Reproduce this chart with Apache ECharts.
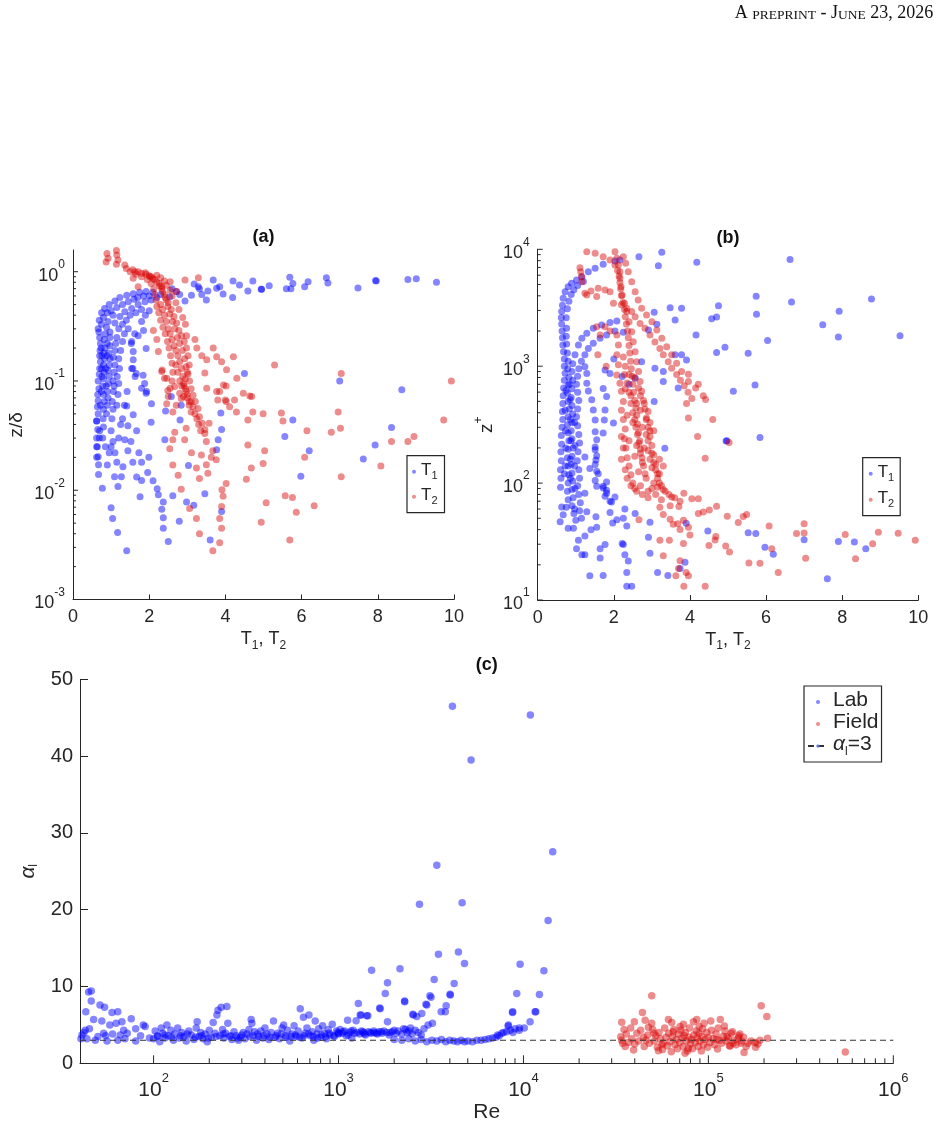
<!DOCTYPE html>
<html><head><meta charset="utf-8">
<script src="https://cdn.jsdelivr.net/npm/echarts@6/dist/echarts.min.js"></script>
<style>html,body{margin:0;padding:0;background:#fff}#c{width:939px;height:1139px}</style>
</head><body><div id="c"></div>
<script>
// ---------------- DATA ----------------
// Panel (a): [T, z/delta]
const aT1 = [
[3.18,0.77],[3.32,0.70],[3.54,0.665],[3.68,0.84],[3.85,0.73],[4.19,0.58],[4.2,0.82],[4.37,0.755],[4.59,0.665],[4.72,0.82],[4.94,0.69],[4.95,0.69],[5.15,0.745],[5.6,0.70],[5.69,0.89],[5.77,0.78],[5.72,0.7],[6.08,0.73],[6.17,0.81],[6.65,0.88],[6.69,0.79],[7.48,0.71],[7.94,0.83],[7.96,0.82],[8.79,0.85],[9.01,0.86],[9.54,0.80],
[2.71,0.66],[2.94,0.54],[3.11,0.61],[3.5,0.55],[2.54,0.59],[3.29,0.73],[3.38,0.62],[3.77,0.705],[3.94,0.625],[2.8,0.62],[2.6,0.7],
[0.62,0.02],[0.64,0.025],[0.62,0.03],[0.65,0.036],[0.62,0.043],[0.66,0.05],[0.64,0.058],[0.66,0.066],[0.65,0.075],[0.68,0.085],[0.66,0.1],[0.69,0.115],[0.7,0.13],[0.72,0.15],[0.7,0.17],[0.71,0.19],[0.72,0.22],[0.7,0.25],[0.68,0.28],[0.66,0.3],[0.69,0.36],[0.75,0.42],[0.83,0.46],[0.95,0.5],[1.1,0.54],[1.23,0.58],[1.41,0.61],[1.58,0.63],[1.75,0.65],[1.92,0.66],[2.1,0.65],
[0.78,0.03],[0.8,0.038],[0.79,0.045],[0.8,0.055],[0.82,0.065],[0.8,0.075],[0.78,0.09],[0.8,0.105],[0.82,0.12],[0.8,0.14],[0.83,0.16],[0.81,0.18],[0.84,0.2],[0.82,0.24],[0.85,0.27],[0.88,0.31],
[0.88,0.05],[0.9,0.06],[0.92,0.07],[0.9,0.08],[0.93,0.095],[0.95,0.11],[0.92,0.125],[0.95,0.14],[0.97,0.16],[0.94,0.18],[0.97,0.21],[0.97,0.25],[0.97,0.28],[1.1,0.34],[1.23,0.39],[1.36,0.43],[1.54,0.46],[1.71,0.5],[1.89,0.53],[2.05,0.55],
[1.0,0.035],[1.02,0.045],[1.05,0.055],[1.03,0.065],[1.06,0.08],[1.08,0.09],[1.05,0.1],[1.08,0.12],[1.1,0.14],[1.06,0.165],[1.1,0.19],[1.12,0.22],[1.15,0.25],[1.2,0.3],[1.3,0.33],[1.4,0.36],[1.5,0.4],[1.65,0.42],[1.8,0.45],
[1.15,0.06],[1.18,0.075],[1.2,0.095],[1.16,0.11],[1.22,0.13],[1.2,0.16],[1.25,0.19],[1.3,0.23],[1.35,0.27],[1.45,0.3],
[1.54,0.23],[1.58,0.186],[1.58,0.156],[1.54,0.13],[1.63,0.11],[1.8,0.086],[1.93,0.08],[1.85,0.29],[1.71,0.26],[1.62,0.27],[1.53,0.22],[1.57,0.13],[1.66,0.117],[1.84,0.113],[1.88,0.095],[1.92,0.077],[2.06,0.062],[2.05,0.042],[1.92,0.198],[1.8,0.35],[1.9,0.4],[2.0,0.44],
[1.41,0.059],[1.58,0.049],[1.67,0.035],[1.52,0.028],[1.73,0.022],[1.8,0.018],[1.99,0.02],[1.96,0.0145],[1.67,0.0132],[1.8,0.0123],[2.1,0.0122],[2.21,0.0103],[2.24,0.0091],[1.76,0.0087],[1.44,0.039],[1.36,0.029],[1.44,0.023],[1.57,0.018],[1.31,0.0164],[1.09,0.0133],[1.27,0.0133],[1.18,0.0108],
[1.0,0.0069],[1.04,0.0055],[1.17,0.0041],[1.41,0.0028],[0.77,0.0104],[0.67,0.0139],[0.67,0.0171],[0.66,0.0203],[0.62,0.025],[0.69,0.03],[0.7,0.035],[0.62,0.043],
[1.0,0.025],[1.05,0.028],[0.95,0.022],[1.1,0.022],[1.2,0.03],[1.25,0.04],[0.9,0.017],[0.85,0.025],[1.15,0.018],[1.3,0.045],[1.35,0.06],[1.42,0.08],
[2.37,0.0078],[2.33,0.0067],[2.37,0.0056],[2.37,0.0045],[2.5,0.0034],[2.79,0.0052],[2.98,0.0078],[3.17,0.0073],[3.46,0.0093],[3.6,0.0035],[3.9,0.0064],[2.62,0.0089],[3.03,0.0168],[2.41,0.029],[2.43,0.053],[2.81,0.044],[2.58,0.072],[2.84,0.06],
[3.88,0.051],[3.9,0.036],[3.81,0.029],[3.77,0.0235],
[8.63,0.083],[7.0,0.1],[4.5,0.117],[5.77,0.044],[5.56,0.031],[6.2,0.023],[5.98,0.0134],[7.62,0.0193],[7.93,0.026],[8.36,0.0375],
[0.75,0.33],[0.8,0.38],[0.9,0.42],[1.0,0.44],[1.15,0.47],[1.3,0.5],[1.45,0.53],[1.6,0.56],[1.7,0.58],[1.85,0.6],[2.0,0.6],[2.2,0.58],[2.3,0.62],
[0.72,0.06],[0.74,0.08],[0.76,0.11],[0.75,0.13],[0.76,0.17],[0.74,0.2],[0.87,0.09],[0.86,0.13],[0.89,0.17],[0.9,0.22],[0.92,0.35],[1.05,0.4]
];
const aT2 = [
[0.86,1.6],[0.89,1.47],[0.92,1.33],[0.87,1.23],[1.14,1.56],[1.15,1.42],[1.18,1.28],[1.14,1.17],
[1.36,1.15],[1.4,1.07],[1.57,1.04],[1.71,1.0],[1.8,0.97],[1.92,0.95],[2.06,0.9],[2.14,0.85],[2.26,0.78],[2.33,0.70],[2.4,0.62],[2.45,0.55],[2.49,0.48],[2.54,0.41],[2.61,0.35],[2.67,0.3],[2.74,0.25],[2.8,0.22],[2.87,0.19],[2.93,0.16],[2.97,0.135],[3.02,0.116],[3.06,0.1],[3.1,0.085],[3.15,0.074],[3.21,0.065],[3.28,0.056],[3.32,0.047],[3.39,0.041],[3.46,0.036],
[1.5,1.0],[1.65,0.95],[1.8,0.9],[1.95,0.85],[2.05,0.78],[2.12,0.7],[2.15,0.62],[2.18,0.55],[2.2,0.48],[2.25,0.42],[2.3,0.36],[2.36,0.31],[2.42,0.27],[2.48,0.23],[2.52,0.2],[2.56,0.17],[2.6,0.145],[2.62,0.12],[2.6,0.1],
[1.9,0.98],[2.0,0.92],[2.1,0.86],[2.2,0.8],[2.28,0.74],[2.35,0.66],[2.42,0.58],[2.5,0.52],[2.58,0.45],[2.65,0.39],[2.72,0.34],[2.78,0.29],[2.85,0.26],[2.92,0.23],[2.98,0.2],[3.02,0.17],[3.05,0.14],[3.0,0.12],[2.95,0.105],[2.92,0.09],[2.97,0.08],[3.0,0.07],[3.05,0.06],[3.1,0.052],
[2.2,0.93],[2.3,0.88],[2.4,0.82],[2.45,0.75],[2.55,0.68],[2.6,0.6],[2.7,0.52],[2.78,0.45],[2.88,0.38],[2.95,0.33],
[2.3,0.5],[2.35,0.45],[2.4,0.4],[2.45,0.35],[2.5,0.3],[2.55,0.27],[2.6,0.24],[2.65,0.21],[2.7,0.19],[2.75,0.17],[2.8,0.15],[2.85,0.13],[2.88,0.11],[2.9,0.095],[2.95,0.085],[3.0,0.075],[3.05,0.065],[3.15,0.058],[3.2,0.05],[3.25,0.045],[2.7,0.14],[2.75,0.12],[2.8,0.1],[2.85,0.09],[2.9,0.072],[3.1,0.065],[3.3,0.04],[3.35,0.035],
[1.58,0.87],[1.63,1.0],[2.02,0.9],[2.33,0.73],[2.55,0.81],[2.72,0.66],[2.94,0.84],[3.29,0.88],[1.71,0.73],[2.11,0.29],[2.2,0.24],[2.98,0.26],[3.2,0.24],[3.25,0.2],[3.38,0.17],[3.51,0.156],[3.68,0.2],[3.77,0.167],[3.9,0.15],[4.03,0.127],[4.21,0.167],[2.33,0.122],[2.46,0.106],[2.55,0.086],[2.5,0.072],[2.46,0.062],[2.24,0.186],[3.46,0.118],[3.51,0.086],[3.77,0.08],[3.95,0.092],[4.0,0.067],[4.3,0.106],[4.47,0.077],[4.69,0.072],
[5.29,0.14],[7.04,0.117],[9.93,0.1],[4.64,0.073],[9.73,0.044],[6.96,0.052],[7.02,0.037],[6.78,0.034],[6.14,0.035],[5.47,0.051],[5.51,0.043],[4.99,0.05],[4.72,0.052],[4.59,0.044],[4.29,0.052],[4.11,0.058],[4.02,0.065],[3.8,0.067],[3.85,0.08],[4.02,0.09],[4.24,0.067],[8.36,0.028],[8.79,0.028],[8.95,0.031],[8.08,0.0167],[7.04,0.0133],[6.08,0.02],[6.33,0.0072],[5.86,0.0063],[5.76,0.0086],[5.57,0.0089],[5.69,0.0035],[5.07,0.0077],[4.94,0.0051],[4.99,0.0176],[5.03,0.023],[4.59,0.026],[4.55,0.0126],[4.68,0.016],[3.91,0.0101],[4.02,0.0115],[3.94,0.0088],[3.9,0.0071],[3.85,0.0055],[3.9,0.0045],[3.85,0.0033],[3.67,0.0028],[3.32,0.004],[3.24,0.0055],[3.06,0.0068],[2.84,0.0102],[2.76,0.0137],[2.62,0.017],[2.54,0.024],[2.62,0.029],[2.67,0.034],[2.62,0.052],[2.71,0.06],[2.84,0.069],[2.49,0.082],[2.4,0.106],[2.34,0.126],[2.67,0.089],[2.8,0.077],[2.97,0.037],[2.93,0.029],[3.11,0.022],[3.24,0.016],[3.37,0.021],[3.32,0.0128],[3.5,0.0171],[3.54,0.0143],[3.63,0.02],[3.67,0.023],[3.5,0.028],[3.46,0.033],[3.57,0.041],[3.76,0.019]
];
// Panel (b): [T, z+]
const bT1 = [
[0.63,2930],[0.65,3330],[0.67,3810],[0.72,4340],[0.8,4790],[0.89,5120],[1.02,5470],[1.16,5830],[1.33,6430],[1.51,6870],[1.72,7440],[2.03,7950],
[0.75,2600],[0.78,3100],[0.82,3600],[0.88,4100],[0.95,4500],[1.05,4900],[1.2,5300],
[0.62,2600],[0.63,2300],[0.64,2000],[0.65,1750],[0.66,1520],[0.68,1330],[0.7,1150],[0.7,1000],[0.72,870],[0.7,760],[0.68,650],[0.67,560],[0.66,480],[0.65,410],[0.66,350],[0.64,300],[0.62,255],[0.63,215],[0.61,185],[0.62,155],[0.6,130],[0.61,110],[0.6,92],
[0.76,2110],[0.75,1800],[0.76,1550],[0.78,1300],[0.8,1100],[0.79,950],[0.82,800],[0.8,690],[0.78,590],[0.8,500],[0.83,430],[0.8,370],[0.78,315],[0.8,270],[0.82,230],[0.8,195],[0.78,165],[0.8,140],[0.82,118],[0.8,100],[0.78,85],[0.8,72],[0.75,62],[0.67,53.6],[0.63,62.6],[0.59,46.8],[0.8,41],[0.94,41],
[0.98,1250],[0.92,1050],[0.9,900],[0.92,760],[0.9,640],[0.88,540],[0.9,460],[0.92,390],[0.9,330],[0.88,280],[0.9,240],[0.93,200],[0.9,170],[0.88,145],[0.9,122],[0.92,104],[0.9,88],[0.93,75],[0.9,64],[0.95,55],[1.0,48],
[1.24,1250],[1.15,1100],[1.08,950],[1.05,820],[1.02,700],[1.05,600],[1.08,510],[1.05,430],[1.02,370],[1.05,310],[1.08,260],[1.1,220],[1.06,185],[1.04,155],[1.08,130],[1.1,110],[1.05,95],[1.08,80],[1.12,68],[1.1,58],[1.15,50],
[1.07,1520],[1.16,1730],[1.29,1910],[1.46,2110],[1.68,2250],[1.9,2370],[2.08,2430],
[1.33,1420],[1.46,1570],[1.64,1730],[1.81,1850],[2.03,2000],[2.25,1950],
[1.29,713],[1.29,867],[1.24,990],[1.33,615],[1.42,516],[1.46,422],[1.51,346],[1.51,275],[1.55,235],[1.51,193],[1.53,158],[1.59,120],[1.51,105],[1.55,94],[1.72,94],[1.77,77],[1.9,70],[1.81,87],
[1.72,268],[1.75,347],[1.77,422],[1.81,550],[1.72,645],[1.9,867],[1.77,930],[1.99,327],[1.55,126],[1.51,144],[1.55,171],[1.51,204],[1.24,167],[1.37,133],[1.24,82],[1.81,102],[1.72,91],[1.81,82],[2.03,76],[1.94,69],[1.9,56],[2.08,48.7],[1.97,45.5],
[1.29,57],[1.53,51.5],[1.55,42],[1.4,39.8],[1.24,35.3],[1.02,27.5],[1.07,32.5],[1.16,24.4],[1.24,24.4],[1.37,16.1],[1.72,16.2],[1.64,27.5],[1.64,22.9],[1.77,29.9],
[2.29,60],[2.25,50],[2.56,55],[2.34,43],[2.25,29.8],[2.29,24.4],[2.38,21.6],[2.34,17.2],[2.34,13.1],[2.47,13.1],[2.22,30.5],[2.95,25.1],[3.15,17.2],[3.42,16.2],[2.91,34.5],[2.95,46.2],[3.74,18.6],[3.87,21],[3.9,45.3],[4.47,39],[5.53,37.7],[5.73,37],[5.97,28.3],[6.19,24.6],[7.0,32.7],[7.9,31.6],[8.32,31.4],[8.62,27.5],[7.61,15.2],[4.95,229],[3.34,199],
[2.66,8640],[3.26,9430],[3.17,7240],[4.18,7740],[6.63,8200],[3.48,3160],[3.78,3130],[4.75,3290],[4.7,2640],[4.57,2540],[4.16,1850],[4.92,1450],[4.7,1310],[5.53,1290],[5.14,611],[5.71,690],[5.84,245],[4.97,230],[3.61,2490],[3.06,2890],[3.13,2280],[2.91,2040],[2.16,8100],[3.78,1250],[3.91,1130],[3.61,1250],[3.3,900],[3.3,740],[3.69,650],[2.56,790],[2.73,1090],[3.08,960],[2.22,815],[5.74,3960],[6.67,3540],[8.77,3760],[7.92,2950],[7.49,2260],[7.9,1780],[9.52,1826],[5.75,2780],[6.04,1660],[3.06,500],[2.4,700],[2.0,1150],
[0.7,120],[0.72,140],[0.74,200],[0.73,280],[0.72,420],[0.74,620],[0.86,110],[0.86,160],[0.87,230],[0.86,350],[0.85,520],[0.84,700],[0.97,60],[0.98,90],[0.97,140],[0.98,210],[0.97,330]
];
const bT2 = [
[1.29,9540],[1.51,9240],[1.72,8640],[1.9,8100],[2.03,7340],[2.1,6600],[2.14,5900],[2.16,5200],[2.18,4600],[2.2,4000],[2.24,3500],[2.28,3050],[2.3,2650],[2.33,2300],[2.36,2000],[2.38,1750],[2.4,1500],[2.42,1300],[2.44,1100],[2.46,950],[2.48,820],[2.5,700],[2.52,600],[2.55,510],[2.58,440],[2.6,380],[2.62,320],[2.65,270],[2.68,230],[2.7,195],[2.74,165],[2.78,140],[2.82,120],
[2.03,9540],[2.08,8380],[2.12,7340],[2.16,6430],[2.16,5650],[2.19,4790],[2.22,4070],[2.28,3450],[2.34,2930],[2.4,2400],[2.47,1970],[2.51,1620],[2.56,1330],[2.6,1090],[2.65,900],[2.69,740],[2.73,610],[2.78,510],[2.82,430],[2.86,360],[2.9,300],[2.95,250],[3.0,210],[3.05,175],[3.1,145],[3.15,120],[3.2,100],[3.3,88],[3.45,80],[3.6,75],
[2.25,8640],[2.31,7590],[2.38,6430],[2.47,5280],[2.56,4330],[2.64,3680],[2.73,3130],[2.86,2740],[3.0,2400],[3.13,2040],[3.26,1730],[3.39,1470],[3.52,1250],[3.65,1060],[3.78,900],[3.96,740],[4.15,650],[4.35,560],
[1.59,4640],[1.77,4490],[1.9,4340],[1.99,3450],[2.2,3360],[2.34,3130],[2.47,2930],[2.56,2650],[2.69,2320],[2.82,2110],[2.95,1850],[3.08,1610],[3.21,1420],[3.3,1250],[3.43,1090],[3.52,960],[3.65,850],[3.75,760],[3.85,680],[3.95,600],[4.05,530],
[1.11,6950],[1.13,6440],[1.15,5830],[1.16,5290],[1.24,4200],[1.29,4070],[1.55,3940],[1.4,4400],
[1.55,2180],[1.64,1850],[1.77,2180],[1.9,2000],[2.08,1850],[2.12,1520],[2.08,1250],[2.12,1030],[2.08,840],[2.16,715],[2.2,610],[2.25,500],[2.2,420],[2.25,350],[2.3,290],[2.28,240],[2.32,200],[2.35,165],[2.4,140],[2.45,118],[2.5,100],[2.55,90],[1.58,1250],[1.8,1000],
[2.3,640],[2.45,560],[2.6,480],[2.7,420],[2.35,380],[2.5,330],[2.75,300],[2.85,260],[2.4,230],[2.6,210],[2.9,190],[2.55,170],[2.75,150],[3.0,135],[2.65,125],[2.85,110],[3.05,100],[3.15,92],[2.9,85],[3.1,80],[3.25,72],[2.7,95],[2.95,160],[3.2,120],
[2.25,1200],[2.3,1000],[2.28,850],[2.35,720],[2.4,600],[2.45,480],[2.5,400],[2.55,350],[2.58,300],[2.62,260],[2.66,220],[2.7,180],[2.8,200],[2.9,230],[2.95,280],[3.0,180],[3.05,150],[3.1,130],[3.15,110],[3.25,95],[3.35,85],[3.2,160],[3.3,140],[2.85,350],[2.95,330],[3.05,280],[2.7,560],[2.8,480],[2.9,410],[2.4,850],[2.55,800],[2.65,650],[2.2,250],[2.25,200],[2.2,160],[2.3,130],[2.35,110],[2.45,95],[2.6,85],[2.75,80],[2.9,75],[3.0,90],
[9.92,32.5],[9.47,37.3],[8.95,38],[8.8,30.3],[8.35,22.5],[8.08,36.3],[7.0,45],[7.0,37.5],[6.8,37],[7.04,22.8],[6.08,43],[6.15,27.5],[6.32,17.2],[5.84,20.6],[5.55,20.7],[5.49,54],[5.4,51.7],[5.27,46],[4.98,52],[5.04,25.8],[4.94,29],[4.66,32.6],[4.5,29.3],[4.68,35],[4.7,63.5],[4.51,59],[4.35,56.5],[4.22,55],[4.22,73.5],[4.05,73.5],[3.84,82],[3.74,70],[3.71,63],[3.52,76],[3.48,64],[3.68,45],[3.56,44.5],[3.48,49],[3.3,54],[3.21,62],[3.83,48],[4.0,36],[3.96,42],[3.74,40],[3.46,32.5],[3.21,32.5],[3.3,23.9],[3.74,21.7],[3.7,18.6],[3.63,16.1],[3.9,17.2],[3.96,16.1],[3.84,13.1],[4.4,13.1],[3.83,30.5],[2.66,48.5],
[3.91,480],[3.96,360],[4.2,250],[4.4,163],[4.6,350],[5.03,222],[4.22,700],[3.96,855],[4.41,520]
];
// Panel (c): [Re, alpha_l]
const cLab = [
[44.5,9.3],[46,9.4],[46,8.1],[43,6.7],[47.4,5.7],[52.5,5.5],[51.3,7.6],[54.3,7.3],[59.6,6.6],[64,6.7],[58,5.0],[62.7,5.2],[67.4,5.4],[75.7,5.8],[68.9,4.3],[42.7,4.3],[43.6,3.2],[48.4,3.0],[53.7,3.9],[56,2.9],[64,3.0],[66,3.7],[41,3.7],[40.5,3.2],[45,4.5],[42,4.0],[50,3.5],[55,3.6],[60,3.8],[70,3.2],[72,3.9],[80,4.5],[85,3.6],[88,5.0],[90,4.8],[95,3.3],[80,2.9],
[100,3.2],[102,4.2],[105,3.6],[108,2.8],[110,4.6],[112,3.9],[115,3.3],[118,5.0],[120,3.6],[124,4.3],[128,3.0],[130,3.8],[135,4.6],[138,3.3],[142,4.0],[146,3.5],[150,2.9],[155,4.2],[160,3.7],[165,3.1],[170,4.6],[172,5.4],[176,3.5],[180,4.0],[185,3.2],[190,3.8],[195,2.8],[200,4.3],[205,3.4],[210,5.3],[215,3.9],[220,6.3],[223,6.9],[228,3.6],[232,7.3],[236,4.4],[240,3.3],[245,3.9],[249,7.4],[252,5.2],[258,3.5],[265,3.1],[272,4.1],[280,3.6],[288,3.0],[295,3.4],[305,4.0],[312,3.2],[320,3.8],[328,4.4],[337,5.7],[340,5.2],[345,3.6],[352,4.1],[360,3.0],[370,3.5],[380,4.2],[390,3.3],[400,4.6],[410,3.8],[420,3.1],[432,4.0],[445,5.5],[455,3.4],[468,3.9],[480,3.2],[495,4.6],[505,5.0],[515,3.6],[530,4.3],[545,2.9],[560,3.8],[575,4.9],[590,3.5],[605,4.2],[621,7.1],[635,3.3],[646,6.0],[660,3.9],[675,4.6],[692,6.3],[705,3.6],[720,4.1],[735,3.0],[748,5.5],[765,3.8],[780,4.5],[800,3.4],[820,4.9],[840,3.9],[860,3.2],[880,4.4],[900,3.7],[925,5.1],[950,3.5],[975,4.2],[1000,3.8],
[105,3.5],[115,3.7],[125,3.4],[140,3.6],[152,3.8],[168,3.4],[182,3.6],[198,3.3],[218,3.5],[238,3.8],[262,3.6],[285,3.3],[300,3.7],[332,3.5],[365,3.8],[395,3.6],[425,3.4],[460,3.6],[490,3.8],[520,3.4],[555,3.5],[585,3.7],[615,3.4],[650,3.6],[690,3.8],[730,3.5],[770,3.3],[810,3.7],[850,3.5],[890,3.9],[940,3.6],[990,4.0],
[1020,4.4],[1050,3.9],[1080,4.2],[1100,3.6],[1120,5.6],[1150,4.0],[1180,3.3],[1200,4.3],[1245,5.55],[1280,7.8],[1310,6.3],[1324,6.3],[1350,4.1],[1380,3.8],[1420,6.2],[1440,6.2],[1480,4.0],[1510,12.1],[1550,4.2],[1600,3.9],[1670,7.2],[1680,7.1],[1700,4.1],[1790,9.1],[1840,10.5],[1840,5.4],[1900,4.0],[2000,4.3],[2150,12.3],[2275,8.1],[2280,8.0],[2300,4.4],[2400,4.2],[2520,6.4],[2540,6.3],[2650,6.1],[2740,20.7],[2820,6.5],[2970,7.7],[3000,7.6],[3120,8.8],[3165,8.6],[3220,5.2],[3290,10.9],[3400,25.8],[3470,14.2],[3590,6.7],[3780,6.7],[3820,7.5],[4010,9.0],[4020,8.9],[4130,46.5],[4220,10.4],[4450,14.5],[4660,20.9],[4800,13.0],[5210,39.5],
[1000,3.9],[1060,4.1],[1130,3.7],[1170,4.2],[1220,3.9],[1260,4.0],[1300,3.8],[1330,4.2],[1370,4.0],[1400,3.7],[1450,4.1],[1500,3.9],[1560,4.0],[1620,3.8],[1650,4.1],[1720,3.9],[1760,4.2],[1820,4.0],[1880,3.7],[1950,4.1],[2050,3.9],[2100,4.2],[2200,3.8],[2250,4.5],[2350,4.0],[2450,4.6],[2500,3.8],[2600,4.3],[2700,4.0],[2800,3.7],[2900,4.5],[3050,5.0],
[2000,3.1],[2200,3.0],[2400,3.2],[2600,2.9],[2800,3.1],[3000,2.8],[3200,3.0],[3400,2.9],[3600,3.1],[3800,2.8],[4000,3.0],[4200,2.9],[4400,2.8],[4600,3.0],[4800,2.8],[5000,2.9],[5300,2.8],[5600,3.0],[5900,3.0],[6200,3.1],[6500,3.2],[6800,3.3],[7100,3.4],[7400,3.6],[7640,3.9],[8100,4.1],[8500,4.3],[9000,4.5],[9500,4.6],[7250,3.7],[7800,4.0],[8770,4.0],[9490,4.3],[10100,4.6],[10860,5.4],[8260,4.86],[8720,6.6],[9200,9.1],[9590,12.9],[12200,8.97],[11560,6.7],[12900,12.06],[13600,18.6],[14400,27.55],[10900,45.35],[8300,5.0],[8750,6.7],[11660,6.7]
];
const cField = [
[49400,8.8],[44000,6.6],[193000,7.5],[207000,6.1],[209000,3.25],[550000,1.47],
[34000,5.33],[35000,4.4],[33600,3.46],[34400,2.6],[39800,5.4],[39400,1.73],[45500,5.6],[47400,4.7],[49400,5.2],[50800,3.9],[53700,1.64],[56000,2.46],[60800,5.7],[63400,5.3],[64600,4.1],[70300,4.8],[73300,5.1],[74800,1.3],[78000,1.95],[83000,5.4],[86500,5.7],[89100,4.8],[91600,1.6],[94800,5.2],[103000,5.5],[111000,3.1],[112000,1.86],[116000,5.7],[122000,4.85],[126000,3.5],[135000,4.1],[146000,3.6],[148000,3.8],[151000,2.9],[156000,1.4],[164000,2.6],[179000,2.7],[180000,2.1],[136000,2.6],[131000,2.25],
[34000,3.0],[35500,2.2],[36000,3.8],[37000,2.7],[38000,4.6],[38500,3.2],[40000,2.5],[41000,3.9],[42000,2.9],[43000,4.3],[44500,3.4],[45000,2.2],[46000,3.0],[47000,3.7],[48000,2.6],[50000,4.4],[51000,2.9],[52000,3.6],[53000,2.1],[54000,4.0],[55000,3.2],[56500,1.8],[57000,2.6],[58000,4.6],[59000,3.4],[60000,2.3],[61000,3.9],[62000,2.8],[63000,1.5],[64000,3.5],[65000,4.4],[66000,2.4],[67000,3.1],[68000,1.9],[69000,3.8],[70000,2.7],[71000,4.3],[72000,3.3],[73000,2.2],[74000,3.6],[75000,4.0],[76000,2.9],[77000,1.6],[78500,3.4],[79000,4.6],[80000,2.5],[81000,3.1],[82000,1.9],[83500,3.7],[85000,2.7],[86000,4.2],[87000,3.3],[88000,2.2],[89000,3.9],[90000,2.9],[92000,3.5],[93000,4.5],[94000,2.4],[96000,3.1],[98000,4.0],[99000,2.1],[100000,3.4],[102000,2.7],[104000,4.3],[106000,3.2],[108000,2.4],[110000,3.8],[113000,4.6],[115000,3.0],[118000,2.6],[120000,3.5],[123000,4.2],[125000,2.9],[128000,3.3],[130000,2.3],[133000,3.9],[138000,3.0],[141000,2.4],[145000,3.3],[150000,2.6],[155000,3.4],[160000,2.2],[170000,2.9],[185000,2.5],[190000,3.0]
];
const alphaRef = 3;
// axis ranges and ticks
const tRange = [0, 10];
const aYRange = [0.001, 1.58];
const bYRange = [10, 10000];
const cXRange = [40, 1000000];
const cYRange = [0, 50];
const aYDecades = [-3, -2, -1, 0];
const bYDecades = [1, 2, 3, 4];
const cXDecades = [2, 3, 4, 5, 6];
const minorMult = [2, 3, 4, 5, 6, 7, 8, 9];

// ---------------- STYLE ----------------
const AX = '#262626';
const FONT = '"Liberation Sans", Arial, Helvetica, sans-serif';
const BLUE = 'rgb(0,0,255)';
const RED = 'rgb(215,0,0)';

function logTicks(decades, range, majorLen, minorLen) {
  const out = [];
  decades.forEach(e => {
    const p = Math.pow(10, e);
    if (p >= range[0] * 0.9999 && p <= range[1] * 1.0001) out.push([p, majorLen]);
    minorMult.forEach(m => {
      const v = m * p;
      if (v > range[0] && v < range[1]) out.push([v, minorLen]);
    });
  });
  return out;
}
function tickSeries(xi, yi, ticks, orient, base) {
  return {
    type: 'custom', xAxisIndex: xi, yAxisIndex: yi, silent: true, z: 10,
    data: ticks.map(t => orient === 'y' ? [base, t[0], t[1]] : [t[0], base, t[1]]),
    renderItem: (params, api) => {
      const p = api.coord([api.value(0), api.value(1)]);
      const L = api.value(2);
      const shape = orient === 'y'
        ? { x1: p[0], y1: p[1], x2: p[0] + L, y2: p[1] }
        : { x1: p[0], y1: p[1], x2: p[0], y2: p[1] - L };
      return { type: 'line', shape: shape, style: { stroke: AX, lineWidth: 1 } };
    }
  };
}
function powLabel(v) {
  const l = Math.log10(v), e = Math.round(l);
  if (Math.abs(l - e) > 1e-6) return '';
  return '{b|10}{sup|' + e + '}';
}
const supRich = (fs, sfs, lh) => ({
  b: { fontSize: fs, lineHeight: lh, verticalAlign: 'bottom', fontFamily: FONT, color: AX },
  sup: { fontSize: sfs, lineHeight: sfs + 1, verticalAlign: 'top', fontFamily: FONT, color: AX }
});
const subRich = (fs, sfs, lh) => ({
  b: { fontSize: fs, lineHeight: lh, verticalAlign: 'top', fontFamily: FONT, color: AX },
  bi: { fontSize: fs, lineHeight: lh, verticalAlign: 'top', fontFamily: FONT, color: AX, fontStyle: 'italic' },
  sub: { fontSize: sfs, lineHeight: sfs + 1, verticalAlign: 'bottom', fontFamily: FONT, color: AX }
});
const axLine = { show: true, onZero: false, lineStyle: { color: AX, width: 1 } };

function tAxis(gi) {
  return {
    gridIndex: gi, type: 'value', min: tRange[0], max: tRange[1], interval: 2,
    axisLine: axLine, splitLine: { show: false },
    axisTick: { show: true, inside: true, length: 5, lineStyle: { color: AX } },
    axisLabel: { color: AX, fontSize: 18, fontFamily: FONT, margin: 9 },
    name: '{b|T}{sub|1}{b|, T}{sub|2}', nameLocation: 'middle', nameGap: 31,
    nameTextStyle: { rich: subRich(18, 12, 21) }
  };
}

const option = {
  animation: false,
  backgroundColor: '#fff',
  textStyle: { fontFamily: FONT },
  grid: [
    { left: 73, top: 250, width: 381, height: 349.5 },
    { left: 537.7, top: 249.3, width: 380.6, height: 350.7 },
    { left: 80, top: 679.3, width: 813.3, height: 384 }
  ],
  xAxis: [
    tAxis(0), tAxis(1),
    {
      gridIndex: 2, type: 'log', logBase: 10, min: cXRange[0], max: cXRange[1],
      axisLine: axLine, splitLine: { show: false }, axisTick: { show: false },
      axisLabel: { formatter: powLabel, margin: 9, rich: supRich(21, 13, 28) },
      name: '{b|Re}', nameLocation: 'middle', nameGap: 38,
      nameTextStyle: { rich: { b: { fontSize: 21, lineHeight: 22, fontFamily: FONT, color: AX } } }
    }
  ],
  yAxis: [
    {
      gridIndex: 0, type: 'log', logBase: 10, min: aYRange[0], max: aYRange[1],
      axisLine: axLine, splitLine: { show: false }, axisTick: { show: false },
      axisLabel: { formatter: powLabel, margin: 8, rich: supRich(18, 12, 26) },
      name: '{b|z/δ}', nameLocation: 'middle', nameGap: 45,
      nameTextStyle: { rich: { b: { fontSize: 19, lineHeight: 22, fontFamily: FONT, color: AX } } }
    },
    {
      gridIndex: 1, type: 'log', logBase: 10, min: bYRange[0], max: bYRange[1],
      axisLine: axLine, splitLine: { show: false }, axisTick: { show: false },
      axisLabel: { formatter: powLabel, margin: 8, rich: supRich(18, 12, 26) },
      name: '{b|z}{sup|+}', nameLocation: 'middle', nameGap: 41,
      nameTextStyle: { rich: supRich(19, 12, 24) }
    },
    {
      gridIndex: 2, type: 'value', min: cYRange[0], max: cYRange[1], interval: 10,
      axisLine: axLine, splitLine: { show: false },
      axisTick: { show: true, inside: true, length: 8, lineStyle: { color: AX } },
      axisLabel: { color: AX, fontSize: 20, fontFamily: FONT, margin: 7 },
      name: '{bi|α}{sub|l}', nameLocation: 'middle', nameGap: 33,
      nameTextStyle: { rich: subRich(21, 12, 22) }
    }
  ],
  legend: [
    {
      data: [{ name: 'T1', icon: 'circle' }, { name: 'T2', icon: 'circle' }],
      left: 407, top: 455.7, orient: 'vertical', itemWidth: 4, itemHeight: 4, itemGap: 5,
      padding: [6, 7, 6, 5], borderColor: AX, borderWidth: 1.2, backgroundColor: '#fff',
      formatter: n => '{b|T}{sub|' + n.slice(1) + '}',
      textStyle: { rich: subRich(17, 11, 20) }
    },
    {
      data: [{ name: 'T1', icon: 'circle' }, { name: 'T2', icon: 'circle' }],
      left: 862.7, top: 457.7, orient: 'vertical', itemWidth: 4, itemHeight: 4, itemGap: 6,
      padding: [6, 6, 6, 6], borderColor: AX, borderWidth: 1.2, backgroundColor: '#fff',
      formatter: n => '{b|T}{sub|' + n.slice(1) + '}',
      textStyle: { rich: subRich(17, 11, 20) }
    },
    {
      data: [{ name: 'Lab', icon: 'circle' }, { name: 'Field', icon: 'circle' }, { name: 'alpha' }],
      left: 804, top: 686, orient: 'vertical', itemWidth: 20, itemHeight: 4, itemGap: 1,
      padding: [4, 3, 4, 3], borderColor: AX, borderWidth: 1.2, backgroundColor: '#fff',
      formatter: n => n === 'alpha' ? '{bi|α}{sub|l}{b|=3}' : '{b|' + n + '}',
      textStyle: { rich: subRich(21, 12, 24) }
    }
  ],
  graphic: [
    { type: 'text', x: 263.5, y: 237.5, style: { text: '(a)', font: 'bold 18px ' + FONT, fill: '#111', align: 'center', verticalAlign: 'middle' } },
    { type: 'text', x: 728, y: 238, style: { text: '(b)', font: 'bold 18px ' + FONT, fill: '#111', align: 'center', verticalAlign: 'middle' } },
    { type: 'text', x: 486.7, y: 665, style: { text: '(c)', font: 'bold 18px ' + FONT, fill: '#111', align: 'center', verticalAlign: 'middle' } },
    {
      type: 'text', x: 933.3, y: 13.5,
      style: {
        text: '{n|A }{s|PREPRINT}{n| - J}{s|UNE}{n| 23, 2026}', align: 'right', verticalAlign: 'middle',
        rich: {
          n: { fontSize: 18, lineHeight: 18, verticalAlign: 'bottom', fontFamily: '"Liberation Serif", "DejaVu Serif", serif', fill: '#111' },
          s: { fontSize: 13.5, lineHeight: 14, verticalAlign: 'bottom', fontFamily: '"Liberation Serif", "DejaVu Serif", serif', fill: '#111' }
        }
      }
    }
  ],
  series: [
    { type: 'scatter', name: 'T1', xAxisIndex: 0, yAxisIndex: 0, data: aT1, symbolSize: 7, itemStyle: { color: BLUE, opacity: 0.48 } },
    { type: 'scatter', name: 'T2', xAxisIndex: 0, yAxisIndex: 0, data: aT2, symbolSize: 7, itemStyle: { color: RED, opacity: 0.45 } },
    { type: 'scatter', name: 'T1', xAxisIndex: 1, yAxisIndex: 1, data: bT1, symbolSize: 7, itemStyle: { color: BLUE, opacity: 0.48 } },
    { type: 'scatter', name: 'T2', xAxisIndex: 1, yAxisIndex: 1, data: bT2, symbolSize: 7, itemStyle: { color: RED, opacity: 0.45 } },
    { type: 'scatter', name: 'Lab', xAxisIndex: 2, yAxisIndex: 2, data: cLab, symbolSize: 7.5, itemStyle: { color: BLUE, opacity: 0.48 } },
    { type: 'scatter', name: 'Field', xAxisIndex: 2, yAxisIndex: 2, data: cField, symbolSize: 7.5, itemStyle: { color: RED, opacity: 0.45 } },
    {
      type: 'line', name: 'alpha', xAxisIndex: 2, yAxisIndex: 2, z: 5, symbol: 'none', silent: true,
      data: [[cXRange[0], alphaRef], [cXRange[1], alphaRef]],
      lineStyle: { color: '#333', width: 1.2, type: [6, 4] }
    },
    tickSeries(0, 0, logTicks(aYDecades, aYRange, 5, 3), 'y', tRange[0]),
    tickSeries(1, 1, logTicks(bYDecades, bYRange, 5, 3), 'y', tRange[0]),
    tickSeries(2, 2, logTicks(cXDecades, cXRange, 8, 5), 'x', cYRange[0])
  ]
};
const chart = echarts.init(document.getElementById('c'), null, { renderer: 'canvas' });
chart.setOption(option);
</script>
</body></html>
